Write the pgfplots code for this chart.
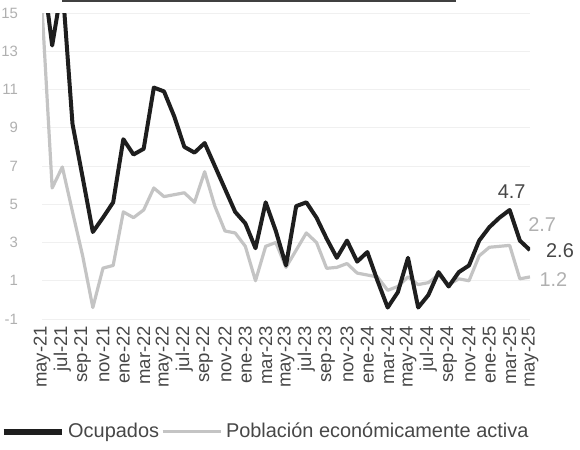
\documentclass[border=0pt]{standalone}
\usepackage{fontspec}
\setmainfont{Liberation Sans}
\usepackage{pgfplots}
\pgfplotsset{compat=1.18}
\usepackage{pgfplotstable}
\definecolor{ocup}{HTML}{1E1E1E}
\definecolor{pea}{HTML}{C4C4C4}
\definecolor{txt}{HTML}{474747}
\definecolor{ytxt}{HTML}{B0B0B0}
\pgfplotstableread{
i v
0 17.5
1 13.3
2 16.5
3 9.2
4 6.4
5 3.55
6 4.3
7 5.1
8 8.4
9 7.6
10 7.9
11 11.1
12 10.9
13 9.6
14 8.0
15 7.7
16 8.2
17 7.0
18 5.8
19 4.6
20 4.0
21 2.7
22 5.1
23 3.6
24 1.8
25 4.9
26 5.1
27 4.3
28 3.2
29 2.2
30 3.1
31 2.0
32 2.5
33 1.0
34 -0.4
35 0.4
36 2.2
37 -0.4
38 0.25
39 1.45
40 0.7
41 1.45
42 1.8
43 3.1
44 3.8
45 4.3
46 4.7
47 3.1
48 2.6
}\ocupados
\pgfplotstableread{
i v
0 15.3
1 5.85
2 6.95
3 4.6
4 2.3
5 -0.4
6 1.66
7 1.8
8 4.6
9 4.3
10 4.7
11 5.85
12 5.4
13 5.5
14 5.6
15 5.1
16 6.7
17 4.9
18 3.6
19 3.5
20 2.8
21 1.0
22 2.8
23 3.0
24 1.7
25 2.6
26 3.5
27 3.0
28 1.65
29 1.7
30 1.9
31 1.4
32 1.3
33 1.2
34 0.5
35 0.7
36 1.2
37 0.8
38 0.9
39 1.3
40 0.8
41 1.1
42 1.0
43 2.3
44 2.75
45 2.8
46 2.85
47 1.1
48 1.2
}\pea
\begin{document}
\begin{tikzpicture}
\useasboundingbox (0,0) rectangle (290bp,225bp);
\draw[black!75, line width=1bp] (31bp,224.6bp) -- (228bp,224.6bp);
\begin{axis}[
  at={(21bp,65.5bp)}, anchor=south west,
  width=244bp, height=153bp, scale only axis,
  xmin=0, xmax=48, ymin=-1, ymax=15,
  clip mode=individual,
  axis line style={draw=none},
  major tick length=0pt,
  ytick={-1,1,...,15},
  ymajorgrids, grid style={color=gray!12, line width=0.5bp},
  xtick={0,2,...,48},
  xticklabels={may-21,jul-21,sep-21,nov-21,ene-22,mar-22,may-22,jul-22,sep-22,nov-22,ene-23,mar-23,may-23,jul-23,sep-23,nov-23,ene-24,mar-24,may-24,jul-24,sep-24,nov-24,ene-25,mar-25,may-25},
  xticklabel style={rotate=90, anchor=east, font=\fontsize{9.3}{10}\selectfont, text=txt},
  yticklabel style={font=\fontsize{7.5}{9}\selectfont, text=ytxt, xshift=-8.5bp},
  /pgf/number format/assume math mode=true,
  legend style={draw=none, fill=none, at={(-0.097,-0.369)}, anchor=west,
    legend columns=2, font=\fontsize{10}{12}\selectfont, text=txt,
    /tikz/every even column/.append style={column sep=-1bp}},
  legend cell align=left,
  legend image code/.code={\draw[#1] (0bp,0bp) -- (29bp,0bp);},
]
\addlegendimage{color=ocup, line width=2.6bp}
\addlegendentry{Ocupados}
\addlegendimage{color=pea, line width=1.5bp}
\addlegendentry{Población económicamente activa}
\addplot[color=pea, line width=1.6bp, line join=round, forget plot] table[x=i,y=v] {\pea};
\addplot[color=ocup, line width=2bp, line join=round, forget plot] table[x=i,y=v] {\ocupados};
\node[text=txt, font=\fontsize{10}{12}\selectfont] at (axis cs:46.2,5.64) {4.7};
\node[text=txt, font=\fontsize{10}{12}\selectfont] at (axis cs:50.95,2.6) {2.6};
\node[text=ytxt, font=\fontsize{10}{12}\selectfont] at (axis cs:49.2,3.92) {2.7};
\node[text=ytxt, font=\fontsize{10}{12}\selectfont] at (axis cs:50.3,1.04) {1.2};
\end{axis}
\end{tikzpicture}
\end{document}
